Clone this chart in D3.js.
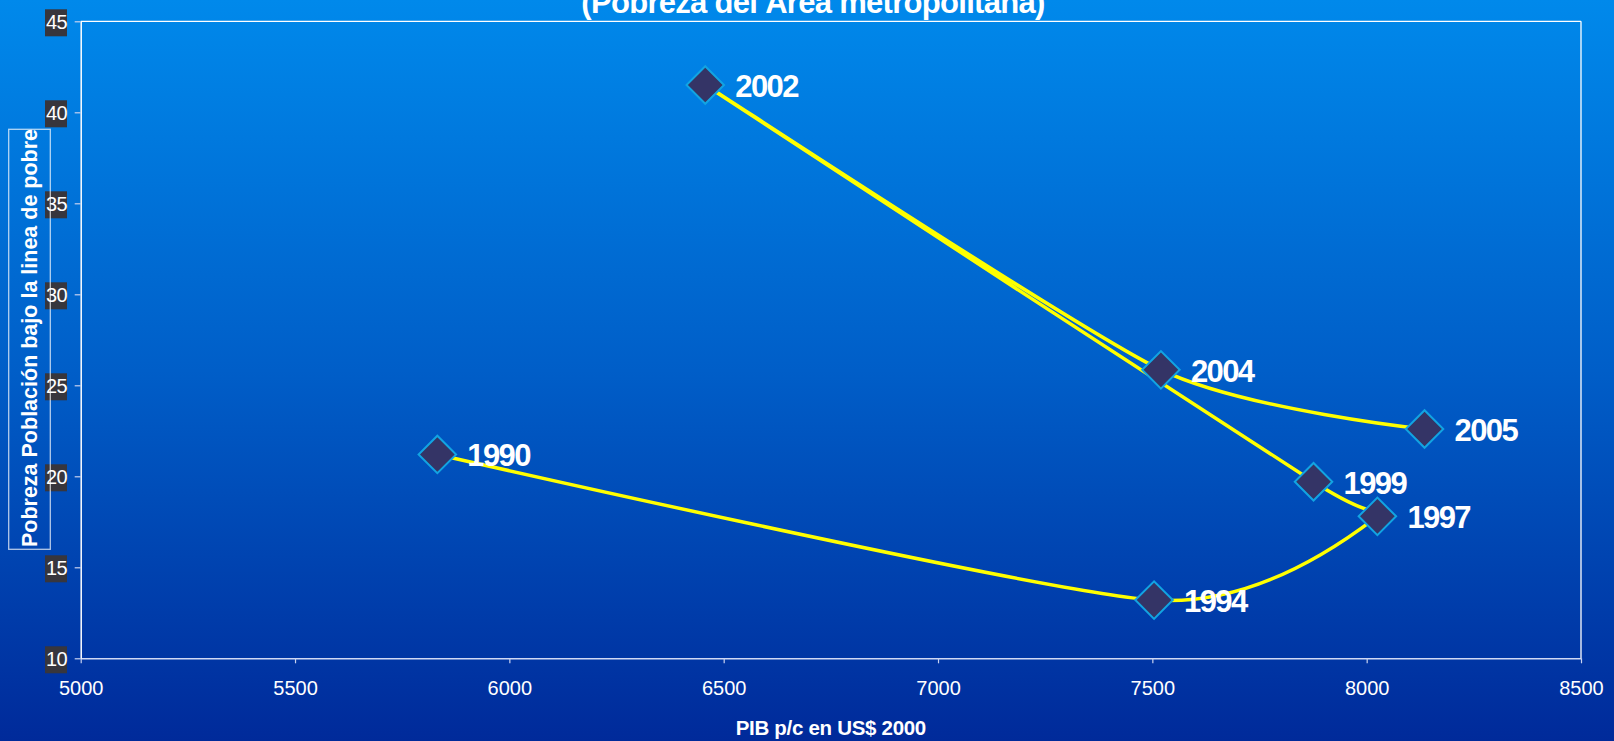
<!DOCTYPE html>
<html>
<head>
<meta charset="utf-8">
<script src="https://cdn.jsdelivr.net/npm/d3@7"></script>
<style>
  html, body { margin: 0; padding: 0; overflow: hidden; }
  svg { display: block; }
  text { font-family: "Liberation Sans", Arial, sans-serif; }
</style>
</head>
<body>
<svg id="chart" width="1614" height="741"></svg>
<script>
// ---- data ----
const years   = ["1990", "1994", "1997", "1999", "2002", "2004", "2005"];
const gdp     = [5832, 7504, 8025, 7876, 6457, 7520, 8135];
const poverty = [21.2, 13.2, 17.8, 19.7, 41.5, 25.85, 22.6];
const xTicks  = [5000, 5500, 6000, 6500, 7000, 7500, 8000, 8500];
const yTicks  = [10, 15, 20, 25, 30, 35, 40, 45];
const titleText = "(Pobreza del Área metropolitana)";
const xTitle = "PIB p/c en US$ 2000";
const yTitle = "Pobreza Población bajo la linea de pobre";

const W = 1614, H = 741;
const svg = d3.select("#chart");

// background gradient
const defs = svg.append("defs");
const grad = defs.append("linearGradient").attr("id", "bg")
  .attr("x1", 0).attr("y1", 0).attr("x2", 0).attr("y2", 1);
grad.append("stop").attr("offset", "0%").attr("stop-color", "#0089eb");
grad.append("stop").attr("offset", "50%").attr("stop-color", "#005ec8");
grad.append("stop").attr("offset", "100%").attr("stop-color", "#002a9a");
svg.append("rect").attr("width", W).attr("height", H).attr("fill", "url(#bg)");

const x = d3.scaleLinear().domain([5000, 8500]).range([80.7, 1581]);
const y = d3.scaleLinear().domain([10, 45]).range([658.3, 21.3]);

// plot border (top, right)
svg.append("line").attr("x1", x(5000)).attr("x2", x(8500)).attr("y1", y(45)).attr("y2", y(45))
  .attr("stroke", "#ffffff").attr("stroke-width", 1.3);
svg.append("line").attr("x1", x(8500)).attr("x2", x(8500)).attr("y1", y(45)).attr("y2", y(10))
  .attr("stroke", "#ffffff").attr("stroke-width", 1.3);

// x axis
const xAxis = svg.append("g").attr("transform", `translate(0,${y(10)})`)
  .call(d3.axisBottom(x).tickValues(xTicks).tickSize(5).tickSizeOuter(0).tickFormat(d3.format("d")));
xAxis.select(".domain").attr("stroke", "#d0d8f4").attr("stroke-width", 1.5);
xAxis.selectAll(".tick line").attr("stroke", "#c8d2f0").attr("stroke-width", 1.2);
xAxis.selectAll(".tick text").attr("fill", "#ffffff").attr("font-size", 20)
  .attr("font-family", "Liberation Sans, Arial, sans-serif").attr("dy", null).attr("y", 37);

// y axis
const yAxis = svg.append("g").attr("transform", `translate(${x(5000)},0)`)
  .call(d3.axisLeft(y).tickValues(yTicks).tickSize(6).tickSizeOuter(0).tickFormat(d3.format("d")));
yAxis.select(".domain").attr("stroke", "#ffffff").attr("stroke-width", 1.5);
yAxis.selectAll(".tick line").attr("stroke", "#c8d2f0").attr("stroke-width", 1.2);
yAxis.selectAll(".tick").each(function() {
  const g = d3.select(this);
  g.insert("rect", "text").attr("x", -35.7).attr("y", -12.5).attr("width", 22).attr("height", 27)
    .attr("fill", "#37363d");
});
yAxis.selectAll(".tick text").attr("fill", "#ffffff").attr("font-size", 20)
  .attr("font-family", "Liberation Sans, Arial, sans-serif").attr("x", -13.5).attr("dy", "0.35em")
  .attr("letter-spacing", -0.5);

// y title box and text
svg.append("rect").attr("x", 8.7).attr("y", 129.3).attr("width", 41.6).attr("height", 420)
  .attr("fill", "none").attr("stroke", "rgba(255,255,255,0.7)").attr("stroke-width", 1.3);
svg.append("text").attr("transform", `translate(37,338) rotate(-90)`)
  .attr("text-anchor", "middle").attr("fill", "#ffffff").attr("font-size", 21.5).attr("font-weight", "bold")
  .text(yTitle);

// x title
svg.append("text").attr("x", (x(5000) + x(8500)) / 2).attr("y", 735)
  .attr("text-anchor", "middle").attr("fill", "#ffffff").attr("font-size", 20.5).attr("font-weight", "bold")
  .attr("letter-spacing", -0.3)
  .text(xTitle);

// title (cut at top)
svg.append("text").attr("x", 813).attr("y", 13)
  .attr("text-anchor", "middle").attr("fill", "#ffffff").attr("font-size", 31).attr("font-weight", "bold")
  .attr("letter-spacing", -0.7)
  .text(titleText);

// data
const pts = years.map((yr, i) => ({ year: yr, gx: gdp[i], py: poverty[i] }));

const line = d3.line().x(d => x(d.gx)).y(d => y(d.py)).curve(d3.curveCardinal.tension(0.3));
svg.append("path").datum(pts).attr("d", line)
  .attr("fill", "none").attr("stroke", "#ffff00").attr("stroke-width", 3.5).attr("stroke-linejoin", "round");

svg.selectAll(".pt").data(pts).enter().append("path")
  .attr("class", "pt")
  .attr("transform", d => `translate(${x(d.gx)},${y(d.py)}) rotate(45)`)
  .attr("d", d3.symbol().type(d3.symbolSquare).size(26.5 * 26.5))
  .attr("fill", "#343466").attr("stroke", "#12a4e2").attr("stroke-width", 2);

svg.selectAll(".lbl").data(pts).enter().append("text")
  .attr("class", "lbl")
  .attr("x", d => x(d.gx) + 30).attr("y", d => y(d.py) + 12)
  .attr("fill", "#ffffff").attr("font-size", 31).attr("font-weight", "bold")
  .attr("letter-spacing", -1.6)
  .text(d => d.year);
</script>
</body>
</html>
